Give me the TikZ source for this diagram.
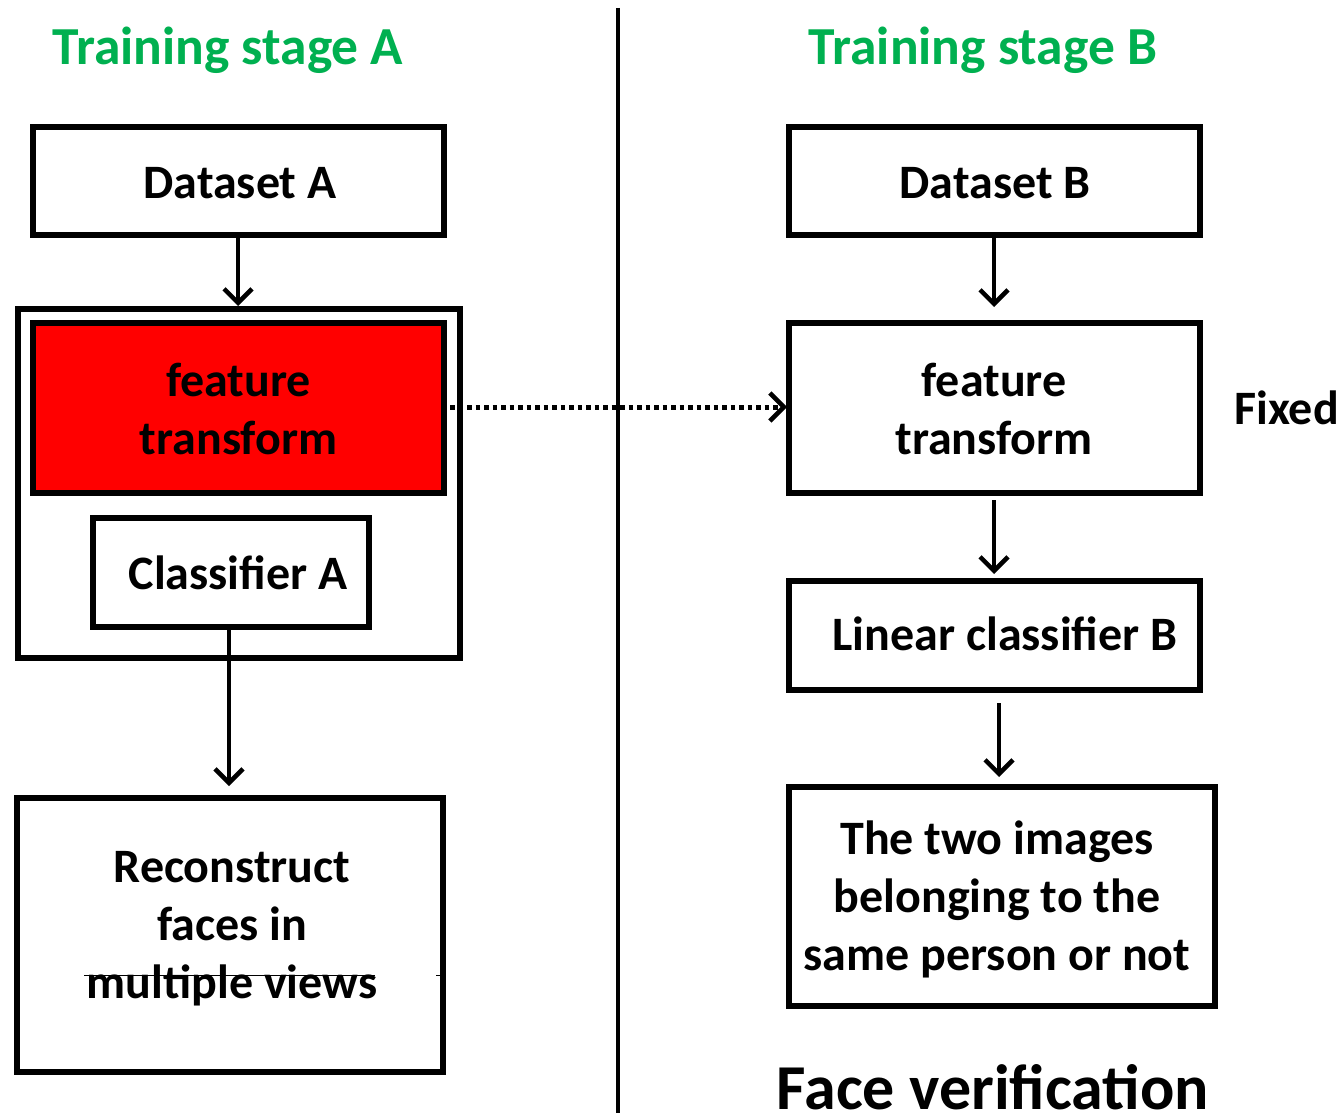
\documentclass[tikz,border=0pt]{standalone}
\usepackage{fontspec}
\setmainfont{Carlito}
\usetikzlibrary{arrows.meta}
\definecolor{stagegreen}{RGB}{0,176,80}
\definecolor{boxred}{RGB}{255,0,0}
\begin{document}
\begin{tikzpicture}[x=1pt,y=-1pt,
  box/.style={draw=black,line width=6pt,inner sep=0pt},
  txt/.style={font=\fontsize{48}{58}\selectfont\bfseries,align=center,inner sep=0pt},
  tip/.style={-{Straight Barb[length=14pt,width=28pt,line width=4.5pt]}},
  arr/.style={line width=4.5pt,tip},
  title/.style={font=\fontsize{53.5}{60}\selectfont\bfseries,text=stagegreen,inner sep=0pt}]
\useasboundingbox (0,0) rectangle (1341,1113);
% divider
\draw[line width=4.5pt] (618,8) coordinate (d1) -- (618,1113) coordinate (d2);
% titles
\node[title] (tA) at (228,50) {Training stage A};
\node[title] (tB) at (983,50) {Training stage B};
% left column
\draw[box] (33,127) rectangle (444,235);
\node[txt] (dA) at (240,183) {Dataset A};
\coordinate (dAb) at (238,238);
\draw[box] (18,309) rectangle (460,658);
\coordinate (outerT) at (238,306);
\draw[box,fill=boxred] (33,323) rectangle (444,493);
\node[txt] (fA) at (238.5,409) {feature\\transform};
\coordinate (fAr) at (450,407);
\draw[box] (93,518) rectangle (369,627);
\node[txt] (cA) at (238,573) {Classifier A};
\coordinate (cAb) at (229,630);
\draw[box] (17,798) rectangle (443,1072);
\coordinate (rT) at (229,786);
\node[txt] (rec) at (232,929) {Reconstruct\\faces in\\multiple views};
\draw[line width=1pt] (84,975.5) coordinate (l1) -- (375,975.5) coordinate (l2);
\draw[line width=1pt] (436,975.5) coordinate (l3) -- (441,975.5) coordinate (l4);
% right column
\draw[box] (789,127) rectangle (1200,235);
\node[txt] (dB) at (995,183) {Dataset B};
\coordinate (dBb) at (994,238);
\draw[box] (789,323) rectangle (1200,493);
\node[txt] (fB) at (994,409) {feature\\transform};
\coordinate (fBl) at (787,407);
\coordinate (fBt) at (994,307);
\coordinate (fBb) at (994,500);
\draw[box] (789,581) rectangle (1200,690);
\node[txt] (lB) at (1005,634) {Linear classifier B};
\coordinate (lBt) at (994,574);
\coordinate (lBb) at (999,703);
\draw[box] (789,787) rectangle (1215,1006);
\coordinate (vT) at (999,777);
\node[txt] (ver) at (997,899) {The two images\\belonging to the\\same person or not};
\node[txt,anchor=west] (fix) at (1234,408) {Fixed};
\node[font=\fontsize{64}{70}\selectfont\bfseries,inner sep=0pt,anchor=base] (fv) at (993,1109) {Face verification};
% arrows
\draw[arr] (dAb) -- (outerT);
\draw[arr] (cAb) -- (rT);
\draw[arr] (dBb) -- (fBt);
\draw[arr] (fBb) -- (lBt);
\draw[arr] (lBb) -- (vT);
\draw[line width=5pt,dash pattern=on 4.5pt off 4pt,tip] (fAr) -- (fBl);
\end{tikzpicture}
\end{document}
